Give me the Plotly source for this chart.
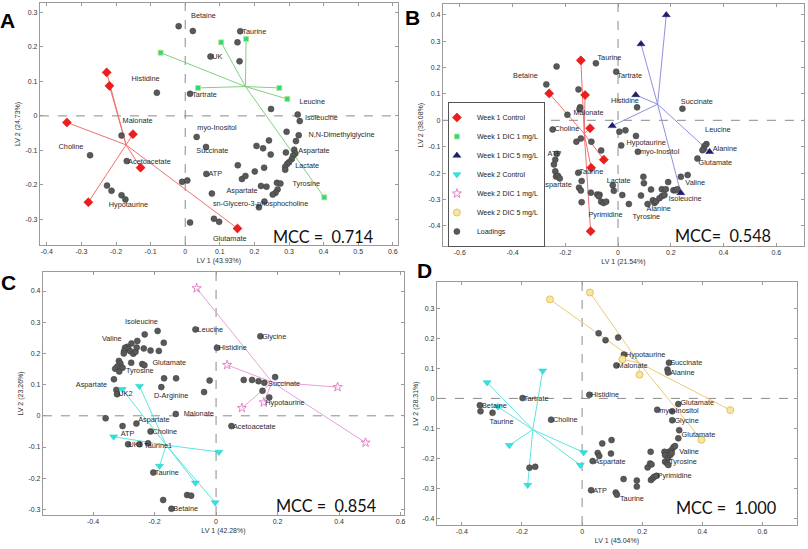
import plotly.graph_objects as go

W, H = 808, 549

# ---------------- Panel A ----------------
A_load_x = [-0.019, 0.022, 0.159, 0.151, 0.157, 0.073, -0.082, 0.014, 0.248, 0.325, 0.331, 0.293, 0.328, 0.320,
            -0.184, 0.033, 0.060, 0.206, 0.225, 0.242, 0.247, -0.275, -0.169,
            0.315, 0.318, 0.312, 0.308, 0.291, 0.300, 0.295, 0.289, 0.289,
            0.152, 0.164, 0.174, 0.201, 0.228, 0.061, -0.009, 0.006, 0.219, 0.235, 0.265, 0.275, 0.267, 0.261,
            0.253, 0.229, 0.213, 0.077, -0.226, -0.213, -0.184, -0.173, 0.014, 0.083, 0.098]
A_load_y = [0.260, 0.246, 0.245, 0.213, 0.158, 0.172, 0.067, 0.064, 0.020, 0.004, -0.015, -0.046, -0.056, -0.073,
            -0.057, -0.061, -0.090, -0.087, -0.094, -0.071, -0.112, -0.114, -0.131,
            -0.098, -0.109, -0.115, -0.125, -0.106, -0.134, -0.139, -0.147, -0.156,
            -0.143, -0.183, -0.174, -0.161, -0.150, -0.168, -0.191, -0.187, -0.203, -0.205, -0.194, -0.196, -0.213, -0.223,
            -0.228, -0.248, -0.265, -0.225, -0.202, -0.217, -0.230, -0.242, -0.309, -0.298, -0.307]
A_w1ctrl_x = [-0.227, -0.219, -0.342, -0.151, -0.129, -0.280, 0.151]
A_w1ctrl_y = [0.126, 0.087, -0.019, -0.053, -0.150, -0.250, -0.326]
A_w1ctrl_c = (-0.171, -0.084)
A_w1dic1_x = [-0.071, 0.104, 0.176, 0.037, 0.272, 0.295, 0.402]
A_w1dic1_y = [0.183, 0.213, 0.223, 0.081, 0.081, 0.049, -0.236]
A_w1dic1_c = (0.174, 0.085)
A_lab_text = ["Betaine", "Taurine", "UK", "Histidine", "Tartrate", "Leucine", "Isoleucine", "Malonate",
              "myo-Inositol", "N,N-Dimethylglycine", "Choline", "Succinate", "Aspartate", "Acetoacetate",
              "Lactate", "ATP", "Tyrosine", "Aspartate", "sn-Glycero-3-phosphocholine", "Hypotaurine", "Glutamate"]
A_lab_x = [0.017, 0.165, 0.078, -0.155, 0.020, 0.330, 0.346, -0.181, 0.035, 0.356, -0.366, 0.032, 0.327, -0.165,
           0.318, 0.067, 0.310, 0.119, 0.080, -0.221, 0.080]
A_lab_y = [0.290, 0.243, 0.171, 0.106, 0.061, 0.039, -0.007, -0.014, -0.037, -0.057, -0.090, -0.101, -0.101, -0.134,
           -0.146, -0.169, -0.198, -0.219, -0.256, -0.260, -0.356]

# ---------------- Panel B ----------------
B_load_x = [-0.233, -0.084, -0.007, -0.272, -0.150, -0.144, -0.146, -0.192, 0.072, 0.244, -0.248, 0.005, 0.028,
            0.068, 0.012, -0.141, -0.158, -0.101, -0.064, 0.075,
            0.335, 0.328, 0.325, 0.320, 0.301,
            -0.232, -0.238, -0.243, -0.238, -0.235, -0.228, -0.221,
            -0.151, -0.138, -0.148, -0.141, -0.138, -0.103, -0.079, -0.070, -0.073, -0.064, -0.055, -0.045, -0.020,
            -0.016, 0.016, 0.041, 0.096, 0.098, 0.087, 0.125, 0.112, 0.132, 0.138, 0.144, 0.157, 0.167, 0.176, 0.166,
            0.181, 0.190, 0.210, 0.217, 0.225, 0.238, 0.264]
B_load_y = [0.204, 0.216, 0.184, 0.136, 0.117, 0.049, 0.042, 0.021, 0.049, 0.044, -0.035, -0.043, -0.038,
            -0.059, -0.095, -0.069, -0.081, -0.081, -0.114, -0.119,
            -0.090, -0.097, -0.108, -0.113, -0.145,
            -0.127, -0.149, -0.167, -0.193, -0.213, -0.210, -0.220,
            -0.199, -0.230, -0.255, -0.266, -0.310, -0.274, -0.281, -0.282, -0.288, -0.308, -0.313, -0.308, -0.246,
            -0.267, -0.283, -0.317, -0.214, -0.238, -0.285, -0.262, -0.317, -0.303, -0.313, -0.307, -0.295, -0.287,
            -0.283, -0.261, -0.261, -0.234, -0.265, -0.265, -0.261, -0.214, -0.207]
B_w1ctrl_x = [-0.141, -0.125, -0.261, -0.106, -0.054, -0.102, -0.104]
B_w1ctrl_y = [0.227, 0.096, 0.102, -0.030, -0.149, -0.180, -0.420]
B_w1ctrl_c = (-0.128, -0.051)
B_w1dic5_x = [0.183, 0.087, 0.067, -0.022, 0.347, 0.238]
B_w1dic5_y = [0.399, 0.289, 0.096, -0.021, -0.119, -0.275]
B_w1dic5_c = (0.150, 0.061)
B_lab_text = ["Taurine", "Tartrate", "Betaine", "Histidine", "Succinate", "Malonate", "Choline", "Leucine",
              "Hypotaurine", "Alanine", "myo-Inositol", "ATP", "Glutamate", "Taurine", "Lactate", "Valine",
              "Aspartate", "Isoleucine", "Alanine", "Pyrimidine", "Tyrosine"]
B_lab_x = [-0.078, -0.003, -0.398, -0.027, 0.238, -0.169, -0.241, 0.330, 0.032, 0.359, 0.083, -0.267, 0.305,
           -0.147, -0.043, 0.255, -0.294, 0.192, 0.108, -0.112, 0.055]
B_lab_y = [0.235, 0.167, 0.168, 0.073, 0.067, 0.026, -0.035, -0.038, -0.086, -0.110, -0.119, -0.130, -0.162,
           -0.198, -0.232, -0.240, -0.247, -0.300, -0.337, -0.358, -0.367]

# ---------------- Panel C ----------------
C_load_x = [-0.190, -0.232, -0.170, -0.256, -0.275, -0.289, -0.296, -0.285, -0.279, -0.299, -0.269, -0.262, -0.258,
            -0.235, -0.213, -0.186, -0.300, -0.276, -0.240, -0.233, -0.316, -0.311, -0.321, -0.328, -0.315, -0.304,
            -0.332, -0.324, -0.322, -0.169, -0.130, -0.178, -0.021, -0.039, -0.131, -0.067, 0.003, 0.144,
            0.090, 0.117, 0.138, 0.157, 0.192, 0.151, 0.173,
            -0.359, -0.304, -0.259, -0.213, -0.286, -0.249, -0.221, -0.204, -0.172, -0.094, -0.081, -0.145, 0.050]
C_load_y = [0.272, 0.261, 0.234, 0.240, 0.232, 0.221, 0.218, 0.214, 0.207, 0.207, 0.199, 0.205, 0.219,
            0.216, 0.209, 0.208, 0.200, 0.170, 0.166, 0.162, 0.176, 0.168, 0.158, 0.151, 0.142, 0.154,
            0.117, 0.083, 0.069, 0.120, 0.120, 0.092, 0.113, 0.076, 0.006, 0.277, 0.218, 0.255,
            0.115, 0.115, 0.111, 0.106, 0.124, 0.080, 0.059,
            -0.008, -0.033, -0.025, -0.050, -0.091, -0.091, -0.088, -0.182, -0.270, -0.254, -0.256, -0.298, -0.033]
C_w2ctrl_x = [-0.305, -0.249, -0.333, 0.009, -0.184, -0.067, -0.003]
C_w2ctrl_y = [0.085, 0.095, -0.067, -0.116, -0.161, -0.215, -0.278]
C_w2ctrl_c = (-0.162, -0.094)
C_w2dic1_x = [-0.063, 0.036, 0.395, 0.084, 0.155, 0.486]
C_w2dic1_y = [0.409, 0.163, 0.092, 0.025, 0.043, -0.086]
C_w2dic1_c = (0.182, 0.108)
C_lab_text = ["Isoleucine", "Leucine", "Glycine", "Valine", "Histidine", "Glutamate", "Tyrosine", "Aspartate",
              "Succinate", "UK2", "D-Arginine", "Hypotaurine", "Malonate", "Aspartate", "Acetoacetate", "Choline",
              "ATP", "UK1", "Taurine1", "Taurine", "Betaine"]
C_lab_x = [-0.296, -0.060, 0.149, -0.371, 0.009, -0.207, -0.293, -0.456, 0.169, -0.318, -0.202, 0.160, -0.105,
           -0.253, 0.055, -0.207, -0.310, -0.285, -0.234, -0.199, -0.139]
C_lab_y = [0.300, 0.275, 0.251, 0.245, 0.216, 0.168, 0.142, 0.099, 0.101, 0.069, 0.062, 0.040, 0.006,
           -0.015, -0.035, -0.053, -0.058, -0.093, -0.097, -0.185, -0.300]

# ---------------- Panel D ----------------
D_load_x = [0.055, 0.078, 0.120, 0.139, 0.114, 0.289, 0.284, 0.286, 0.024, -0.198, -0.340, -0.338, -0.298, -0.103,
            0.320, 0.250, 0.300, 0.300, 0.323, 0.320, 0.067, 0.098, 0.052, 0.057, 0.096, 0.035, -0.175, -0.156, 0.228,
            0.274, 0.289, 0.298, 0.304, 0.309, 0.276, 0.285, 0.293, 0.298,
            0.276, 0.283, 0.287, 0.218, 0.226, 0.231, 0.229, 0.235, 0.240, 0.248,
            0.138, 0.182, 0.182, 0.112, 0.116, 0.030]
D_load_y = [0.217, 0.194, 0.203, 0.146, 0.110, 0.119, 0.096, 0.086, 0.012, 0.001, -0.023, -0.043, -0.048, -0.071,
            -0.019, -0.038, -0.043, -0.073, -0.106, -0.133, -0.150, -0.139, -0.182, -0.192, -0.184, -0.209, -0.231,
            -0.228, -0.178,
            -0.178, -0.178, -0.172, -0.163, -0.159, -0.189, -0.200, -0.189, -0.183,
            -0.211, -0.217, -0.222, -0.230, -0.217, -0.220, -0.272, -0.266, -0.261, -0.258,
            -0.269, -0.274, -0.294, -0.314, -0.321, -0.306]
D_w2ctrl_x = [-0.316, -0.131, -0.280, -0.242, -0.181, 0.005, -0.006]
D_w2ctrl_y = [0.053, 0.092, -0.028, -0.156, -0.289, -0.180, -0.222]
D_w2ctrl_c = (-0.164, -0.104)
D_w2dic5_x = [-0.107, 0.026, 0.134, 0.191, 0.493, 0.397]
D_w2dic5_y = [0.330, 0.353, 0.130, 0.079, -0.039, -0.138]
D_w2dic5_c = (0.189, 0.119)
D_lab_text = ["Hypotaurine", "Succinate", "Malonate", "Alanine", "Histidine", "Tartrate", "Betaine", "Glutamate",
              "myo-Inositol", "Choline", "Taurine", "Glycine", "Glutamate", "Valine", "Aspartate", "Tyrosine",
              "Pyrimidine", "ATP", "Taurine"]
D_lab_x = [0.146, 0.293, 0.118, 0.293, 0.030, -0.194, -0.333, 0.327, 0.257, -0.097, -0.308, 0.307, 0.331, 0.323,
           0.041, 0.290, 0.251, 0.037, 0.126]
D_lab_y = [0.144, 0.117, 0.108, 0.084, 0.010, -0.001, -0.027, -0.017, -0.042, -0.073, -0.079, -0.076, -0.121,
           -0.178, -0.213, -0.214, -0.260, -0.308, -0.337]

# ---------------- axes text ----------------
panel_letters = ["A", "B", "C", "D"]
mcc_texts = ["MCC =  0.714", "MCC=  0.548", "MCC =  0.854", "MCC =  1.000"]
x_titles = ["LV 1 (43.93%)", "LV 1 (21.54%)", "LV 1 (42.28%)", "LV 1 (45.04%)"]
y_titles = ["LV 2 (24.73%)", "LV 2 (38.08%)", "LV 2 (23.26%)", "LV 2 (28.31%)"]
A_xticks = [-0.4, -0.3, -0.2, -0.1, 0, 0.1, 0.2, 0.3, 0.4, 0.5, 0.6]
A_xtext = ["-0.4", "-0.3", "-0.2", "-0.1", "0", "0.1", "0.2", "0.3", "0.4", "0.5", "0.6"]
A_yticks = [-0.3, -0.2, -0.1, 0, 0.1, 0.2, 0.3]
A_ytext = ["-0.3", "-0.2", "-0.1", "0", "0.1", "0.2", "0.3"]
B_xticks = [-0.6, -0.4, -0.2, 0, 0.2, 0.4, 0.6]
B_xtext = ["-0.6", "-0.4", "-0.2", "0", "0.2", "0.4", "0.6"]
B_yticks = [-0.4, -0.3, -0.2, -0.1, 0, 0.1, 0.2, 0.3, 0.4]
B_ytext = ["-0.4", "-0.3", "-0.2", "-0.1", "0", "0.1", "0.2", "0.3", "0.4"]
C_xticks = [-0.4, -0.2, 0, 0.2, 0.4, 0.6]
C_xtext = ["-0.4", "-0.2", "0", "0.2", "0.4", "0.6"]
C_yticks = [-0.3, -0.2, -0.1, 0, 0.1, 0.2, 0.3, 0.4]
C_ytext = ["-0.3", "-0.2", "-0.1", "0", "0.1", "0.2", "0.3", "0.4"]
D_xticks = [-0.4, -0.2, 0, 0.2, 0.4, 0.6]
D_xtext = ["-0.4", "-0.2", "0", "0.2", "0.4", "0.6"]
D_yticks = [-0.4, -0.3, -0.2, -0.1, 0, 0.1, 0.2, 0.3]
D_ytext = ["-0.4", "-0.3", "-0.2", "-0.1", "0", "0.1", "0.2", "0.3"]

# ---------------- styles ----------------
GROUPS = {
    "Week 1 Control": dict(symbol="diamond", color="#ee1c1c", line="#c81010", size=7, lw=0.5, seg="#f07070", rank=1),
    "Week 1 DIC 1 mg/L": dict(symbol="square", color="#27d98a", line="#c8e07a", size=5, lw=0.8, seg="#80d080", rank=2),
    "Week 1 DIC 5 mg/L": dict(symbol="triangle-up", color="#1e1e70", line="#1e1e70", size=7, lw=0.5, seg="#9090dc", rank=3),
    "Week 2 Control": dict(symbol="triangle-down", color="#2fe3e3", line="#20c8c8", size=7, lw=0.5, seg="#5fe2e2", rank=4),
    "Week 2 DIC 1 mg/L": dict(symbol="star-open", color="#e882c8", line="#e882c8", size=7, lw=1, seg="#e8a0d8", rank=5),
    "Week 2 DIC 5 mg/L": dict(symbol="circle", color="#f8e5a0", line="#e2c263", size=7, lw=1, seg="#eccb75", rank=6),
}
legend_shown = set()

fig = go.Figure()

def axname(i):
    return ("x" if i == 1 else f"x{i}"), ("y" if i == 1 else f"y{i}")

def add_group(i, name, xs, ys, c):
    g = GROUPS[name]
    xa, ya = axname(i)
    lx, ly = [], []
    for px, py in zip(xs, ys):
        lx += [c[0], px, None]
        ly += [c[1], py, None]
    fig.add_trace(go.Scatter(x=lx, y=ly, mode="lines", line=dict(color=g["seg"], width=1),
                             xaxis=xa, yaxis=ya, showlegend=False, hoverinfo="skip"))

def add_markers(i, name, xs, ys):
    g = GROUPS[name]
    xa, ya = axname(i)
    show = name not in legend_shown
    legend_shown.add(name)
    fig.add_trace(go.Scatter(x=xs, y=ys, mode="markers", name=name, legendrank=g["rank"],
                             marker=dict(symbol=g["symbol"], color=g["color"], size=g["size"],
                                         line=dict(color=g["line"], width=g["lw"])),
                             xaxis=xa, yaxis=ya, showlegend=show, hoverinfo="skip"))

def add_loadings(i, xs, ys, show):
    xa, ya = axname(i)
    fig.add_trace(go.Scatter(x=xs, y=ys, mode="markers", name="Loadings", legendrank=7,
                             marker=dict(symbol="circle", color="#595959", size=6,
                                         line=dict(color="#3a3a3a", width=0.5)),
                             xaxis=xa, yaxis=ya, showlegend=show, hoverinfo="skip"))

def add_labels(i, texts, xs, ys):
    xa, ya = axname(i)
    fig.add_trace(go.Scatter(x=xs, y=ys, text=texts, mode="text", textposition="middle right",
                             textfont=dict(family="Liberation Sans, Arial", size=7.3, color="#2a2a2a"),
                             xaxis=xa, yaxis=ya, showlegend=False, hoverinfo="skip"))

panels = [
    (1, [("Week 1 Control", A_w1ctrl_x, A_w1ctrl_y, A_w1ctrl_c), ("Week 1 DIC 1 mg/L", A_w1dic1_x, A_w1dic1_y, A_w1dic1_c)],
     A_load_x, A_load_y, A_lab_text, A_lab_x, A_lab_y),
    (2, [("Week 1 Control", B_w1ctrl_x, B_w1ctrl_y, B_w1ctrl_c), ("Week 1 DIC 5 mg/L", B_w1dic5_x, B_w1dic5_y, B_w1dic5_c)],
     B_load_x, B_load_y, B_lab_text, B_lab_x, B_lab_y),
    (3, [("Week 2 Control", C_w2ctrl_x, C_w2ctrl_y, C_w2ctrl_c), ("Week 2 DIC 1 mg/L", C_w2dic1_x, C_w2dic1_y, C_w2dic1_c)],
     C_load_x, C_load_y, C_lab_text, C_lab_x, C_lab_y),
    (4, [("Week 2 Control", D_w2ctrl_x, D_w2ctrl_y, D_w2ctrl_c), ("Week 2 DIC 5 mg/L", D_w2dic5_x, D_w2dic5_y, D_w2dic5_c)],
     D_load_x, D_load_y, D_lab_text, D_lab_x, D_lab_y),
]
for i, groups, lx, ly, lt, tx, ty in panels:
    for name, xs, ys, c in groups:
        add_group(i, name, xs, ys, c)
    add_loadings(i, lx, ly, show=(i == 2))
    for name, xs, ys, c in groups:
        add_markers(i, name, xs, ys)
    add_labels(i, lt, tx, ty)

# ---------------- layout ----------------
# pixel boxes (left, top, right, bottom)
boxes = [(40, 3, 399, 245), (444, 4, 806, 246), (43, 272, 405, 515), (438, 282, 799, 525)]
xranges = [[-0.42, 0.615], [-0.664, 0.705], [-0.563, 0.611], [-0.483, 0.715]]
yranges = [[-0.374, 0.327], [-0.476, 0.4405], [-0.318, 0.461], [-0.422, 0.388]]
xt = [(A_xticks, A_xtext), (B_xticks, B_xtext), (C_xticks, C_xtext), (D_xticks, D_xtext)]
yt = [(A_yticks, A_ytext), (B_yticks, B_ytext), (C_yticks, C_ytext), (D_yticks, D_ytext)]
mcc_pos = [(0.936, 0.037), (0.914, 0.045), (0.928, 0.041), (0.947, 0.070)]

tickfont = dict(family="Liberation Sans, Arial", size=7, color="#333333")
layout = {}
shapes = []
annotations = []
for k in range(4):
    l, t, r, b = boxes[k]
    i = k + 1
    xkey = "xaxis" if i == 1 else f"xaxis{i}"
    ykey = "yaxis" if i == 1 else f"yaxis{i}"
    xa, ya = axname(i)
    common = dict(showgrid=False, zeroline=False, showline=True, linecolor="#9a9a9a", linewidth=1,
                  mirror="ticks", ticks="inside", ticklen=3, tickcolor="#9a9a9a", tickfont=tickfont)
    layout[xkey] = dict(domain=[l / W, r / W], range=xranges[k], anchor=ya, tickmode="array",
                        tickvals=xt[k][0], ticktext=xt[k][1],
                        title=dict(text=x_titles[k], font=tickfont, standoff=3), **common)
    layout[ykey] = dict(domain=[1 - b / H, 1 - t / H], range=yranges[k], anchor=xa, tickmode="array",
                        tickvals=yt[k][0], ticktext=yt[k][1],
                        title=dict(text=y_titles[k], font=tickfont, standoff=3), **common)
    shapes.append(dict(type="line", xref=xa, yref=f"{ya} domain", x0=0, x1=0, y0=0, y1=1,
                       line=dict(color="#8a8a8a", width=1, dash="dash"), layer="below"))
    shapes.append(dict(type="line", xref=f"{xa} domain", yref=ya, x0=0, x1=1, y0=0, y1=0,
                       line=dict(color="#8a8a8a", width=1, dash="dash"), layer="below"))
    mx, my = mcc_pos[k]
    annotations.append(dict(text=mcc_texts[k], xref=f"{xa} domain", yref=f"{ya} domain",
                            x=mx, y=my, xanchor="right", yanchor="middle", showarrow=False,
                            font=dict(family="Lato, Open Sans", size=16.3, color="#111111")))

letter_pos = [(8, 20), (414, 17), (9, 282), (426, 270)]
for k in range(4):
    px, py = letter_pos[k]
    annotations.append(dict(text=f"<b>{panel_letters[k]}</b>", xref="paper", yref="paper",
                            x=px / W, y=1 - py / H, xanchor="center", yanchor="middle", showarrow=False,
                            font=dict(family="Liberation Sans, Arial", size=21, color="#000000")))

fig.update_layout(
    width=W, height=H, margin=dict(l=0, r=0, t=0, b=0),
    paper_bgcolor="white", plot_bgcolor="white",
    shapes=shapes, annotations=annotations,
    legend=dict(x=449 / W, y=1 - 102 / H, xanchor="left", yanchor="top",
                bgcolor="white", bordercolor="#555555", borderwidth=1,
                font=dict(family="Liberation Sans, Arial", size=7, color="#222222"),
                itemwidth=30, indentation=-12, traceorder="normal"),
    **layout,
)

fig.write_html("out.html", config={"displayModeBar": False},
               post_script="document.body.style.margin='0';document.body.style.padding='0';")
